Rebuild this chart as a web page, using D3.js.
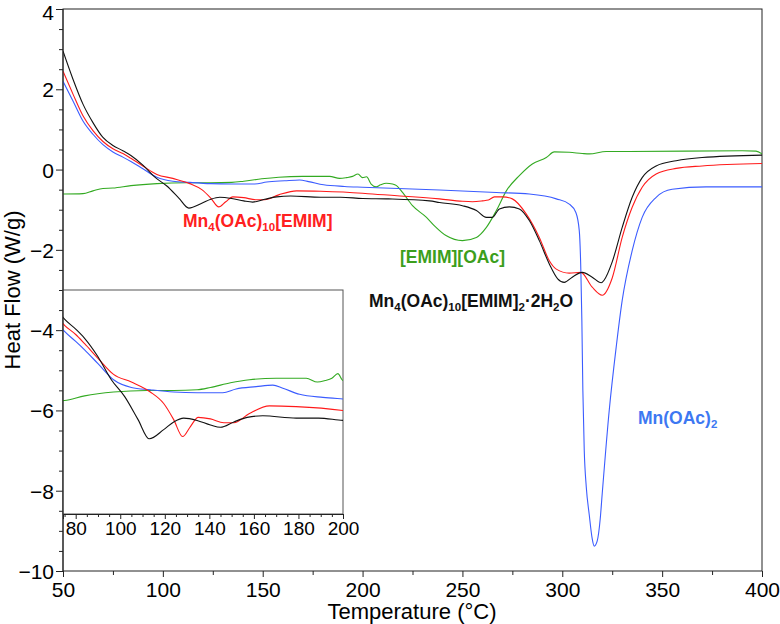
<!DOCTYPE html>
<html>
<head>
<meta charset="utf-8">
<script src="https://cdn.jsdelivr.net/npm/d3@7"></script>
<style>
    body { margin: 0; background: #fff; }
    svg text { font-family: "Liberation Sans", Arial, sans-serif; }
    .axis path, .axis line { stroke: #222; }
    .curve { fill: none; stroke-width: 1.1; }
</style>
</head>
<body>
<div id="chart"></div>
<script>
    // DSC traces, [temperature °C, heat flow W/g]
    const mnCluster2H2O = [[50,2.95],[55,2.25],[60,1.63],[65,1.17],[70,0.80],[75,0.60],[80,0.47],[84,0.35],[90,0.11],
        [96,-0.19],[102,-0.41],[108,-0.71],[113,-0.96],[119.5,-0.84],[124,-0.74],[128.5,-0.69],[134.5,-0.72],
        [140.5,-0.78],[145,-0.81],[151,-0.74],[157,-0.68],[164,-0.66],[179,-0.69],[189,-0.69],[200,-0.72],
        [213,-0.73],[233.5,-0.78],[238.5,-0.82],[250,-0.90],[257,-1.02],[262,-1.19],[265,-1.19],[268.5,-0.98],
        [273.5,-0.93],[278.5,-0.98],[283.5,-1.27],[288.5,-1.77],[293.5,-2.35],[297.7,-2.72],[301,-2.81],
        [305,-2.68],[310,-2.56],[315,-2.68],[319.5,-2.82],[321,-2.75],[325,-2.3],[330,-1.44],[335,-0.69],
        [340,-0.20],[347,0.09],[357,0.22],[370,0.30],[400,0.36]];
    const mnCluster = [[50,2.45],[55,1.88],[60,1.34],[65,0.97],[70,0.70],[75,0.52],[80,0.40],[84,0.28],[90,0.09],
        [97,-0.12],[105,-0.22],[113.5,-0.35],[119.5,-0.50],[124,-0.71],[128,-0.93],[131.5,-0.80],[135,-0.68],
        [140.5,-0.70],[146.5,-0.75],[151,-0.75],[158,-0.63],[167,-0.53],[179,-0.54],[200,-0.59],[205,-0.61],
        [238.5,-0.73],[250,-0.79],[255,-0.80],[260,-0.78],[263,-0.76],[266,-0.68],[270,-0.68],[275,-0.73],
        [282,-1.11],[288.5,-1.69],[293.5,-2.27],[297,-2.48],[303.5,-2.58],[309.3,-2.56],[315,-2.93],[320,-3.13],
        [325,-2.7],[330,-1.69],[335,-0.94],[340,-0.44],[347,-0.11],[357,0.03],[370,0.09],[400,0.15]];
    const mnAcetate = [[50,2.2],[55,1.71],[60,1.21],[65,0.88],[70,0.62],[75,0.44],[80,0.31],[84,0.20],[90,0.02],
        [97,-0.19],[105,-0.29],[113.5,-0.32],[124,-0.35],[134.5,-0.36],[146,-0.36],[152,-0.31],[161,-0.28],
        [168.5,-0.26],[173,-0.30],[180.5,-0.38],[191,-0.42],[200,-0.44],[238.5,-0.51],[267,-0.57],[283.5,-0.61],
        [297,-0.73],[303.5,-0.86],[306.8,-1.07],[308.5,-1.52],[309.3,-2.52],[309.8,-3.76],[310.3,-5.5],
        [311,-7.0],[312,-7.9],[313.5,-8.6],[315,-9.2],[316,-9.38],[317.5,-9.25],[319,-8.7],[320,-8.07],
        [323.5,-6.0],[327,-4.42],[330,-3.26],[335,-2.02],[340,-1.19],[347,-0.69],[355,-0.49],[372,-0.43],[400,-0.43]];
    const emimOAc = [[50,-0.61],[60,-0.60],[65,-0.53],[70,-0.47],[75,-0.46],[84,-0.40],[97,-0.35],[112,-0.33],
        [124,-0.33],[134.5,-0.32],[140.5,-0.29],[149.5,-0.23],[158,-0.19],[170,-0.17],[183.5,-0.17],[188.5,-0.22],
        [192,-0.20],[195,-0.17],[197.7,-0.11],[200,-0.20],[202,-0.18],[204.3,-0.36],[206.8,-0.43],[209,-0.38],
        [211.8,-0.34],[215,-0.36],[217,-0.40],[220,-0.57],[225,-0.90],[232,-1.19],[236,-1.40],[242,-1.65],
        [250,-1.77],[257,-1.69],[262,-1.44],[267,-1.02],[272,-0.53],[278.5,-0.15],[285,0.14],[292,0.30],
        [296,0.44],[303.5,0.43],[310,0.40],[313.5,0.39],[322,0.45],[333.5,0.45],[390,0.47],[397,0.46],[400,0.39]];

    const series = [
        {name: "emim", data: emimOAc, color: "#33aa22"},
        {name: "acetate", data: mnAcetate, color: "#3b5cff"},
        {name: "cluster", data: mnCluster, color: "#ff1a1a"},
        {name: "hydrate", data: mnCluster2H2O, color: "#111111"}
    ];

    const xTicks = [50, 100, 150, 200, 250, 300, 350, 400];
    const yTicks = [4, 2, 0, -2, -4, -6, -8, -10];
    const insetTicks = [80, 100, 120, 140, 160, 180, 200];

    // label text pieces: [text, isSubscript]
    const labels = [
        {parts: [["Mn",0],["4",1],["(OAc)",0],["10",1],["[EMIM]",0]], color: "#ff2020", x: 183, y: 227},
        {parts: [["[EMIM][OAc]",0]], color: "#3c9e1c", x: 400, y: 263},
        {parts: [["Mn",0],["4",1],["(OAc)",0],["10",1],["[EMIM]",0],["2",1],["·2H",0],["2",1],["O",0]], color: "#111", x: 369, y: 306.5},
        {parts: [["Mn(OAc)",0],["2",1]], color: "#3d78f2", x: 638, y: 424}
    ];

    const W = 780, H = 624;
    const svg = d3.select("#chart").append("svg").attr("width", W).attr("height", H);

    const x = d3.scaleLinear().domain([50, 400]).range([63, 762]);
    const y = d3.scaleLinear().domain([-10, 4]).range([571, 9]);

    const line = d3.line().curve(d3.curveMonotoneX)
        .x(function (d) { return x(d[0]); })
        .y(function (d) { return y(d[1]); });

    // frame
    svg.append("rect").attr("x", 63).attr("y", 9).attr("width", 699).attr("height", 562)
        .attr("fill", "none").attr("stroke", "#222");

    // minor ticks
    svg.append("g").attr("class", "axis").attr("transform", "translate(0,571)")
        .call(d3.axisBottom(x).tickValues(d3.range(75, 400, 50)).tickSize(4).tickFormat(""))
        .select(".domain").remove();
    svg.append("g").attr("class", "axis").attr("transform", "translate(63,0)")
        .call(d3.axisLeft(y).tickValues(d3.range(-9.5, 4, 0.5).filter(function (v) { return v % 2 !== 0; })).tickSize(4).tickFormat(""))
        .select(".domain").remove();

    const xAxis = svg.append("g").attr("class", "axis").attr("transform", "translate(0,571)")
        .call(d3.axisBottom(x).tickValues(xTicks).tickSize(6).tickPadding(5));
    xAxis.selectAll("text").attr("font-size", 21).attr("fill", "#000").attr("dy", "0.71em");
    xAxis.select(".domain").remove();

    const yAxis = svg.append("g").attr("class", "axis").attr("transform", "translate(63,0)")
        .call(d3.axisLeft(y).tickValues(yTicks).tickSize(7).tickPadding(2));
    yAxis.selectAll("text").attr("font-size", 21).attr("fill", "#000")
        .attr("dy", function (d) { return d === 4 ? "0.5em" : "0.36em"; });
    yAxis.select(".domain").remove();

    svg.append("text").attr("x", 412).attr("y", 619).attr("text-anchor", "middle")
        .attr("font-size", 22).text("Temperature (°C)");
    svg.append("text").attr("transform", "translate(20,290) rotate(-90)").attr("text-anchor", "middle")
        .attr("font-size", 22).text("Heat Flow (W/g)");

    svg.append("defs").append("clipPath").attr("id", "mainClip")
        .append("rect").attr("x", 63).attr("y", 9).attr("width", 699).attr("height", 562);

    const gMain = svg.append("g").attr("clip-path", "url(#mainClip)");
    gMain.selectAll("path.curve").data(series).enter().append("path")
        .attr("class", "curve")
        .attr("stroke", function (d) { return d.color; })
        .attr("d", function (d) { return line(d.data); });

    // labels with subscripts
    labels.forEach(function (lab) {
        const t = svg.append("text").attr("x", lab.x).attr("y", lab.y)
            .attr("font-size", 17.5).attr("font-weight", "bold").attr("fill", lab.color);
        let down = false;
        lab.parts.forEach(function (p) {
            const ts = t.append("tspan").text(p[0]);
            if (p[1]) {
                ts.attr("font-size", 11.5).attr("dy", down ? 0 : 4);
                down = true;
            } else {
                if (down) ts.attr("dy", -4);
                down = false;
            }
        });
    });

    // inset
    const ix = d3.scaleLinear().domain([74.3, 200]).range([63, 343]);
    const iy = d3.scaleLinear().domain([-1.94, 0.98]).range([514, 290]);
    const iline = d3.line().curve(d3.curveMonotoneX)
        .x(function (d) { return ix(d[0]); })
        .y(function (d) { return iy(d[1]); });

    svg.append("rect").attr("x", 63).attr("y", 290).attr("width", 280).attr("height", 224)
        .attr("fill", "#fff").attr("stroke", "#555");

    svg.select("defs").append("clipPath").attr("id", "insetClip")
        .append("rect").attr("x", 63).attr("y", 290).attr("width", 280).attr("height", 224);

    const gInset = svg.append("g").attr("clip-path", "url(#insetClip)");
    gInset.selectAll("path.curve").data(series).enter().append("path")
        .attr("class", "curve")
        .attr("stroke", function (d) { return d.color; })
        .attr("d", function (d) { return iline(d.data); });

    svg.append("g").attr("class", "axis").attr("transform", "translate(0,514)")
        .call(d3.axisBottom(ix).tickValues(d3.range(75, 200, 5).filter(function (v) { return v % 20 !== 0; })).tickSize(3).tickFormat(""))
        .select(".domain").remove();
    const insetAxis = svg.append("g").attr("class", "axis").attr("transform", "translate(0,514)")
        .call(d3.axisBottom(ix).tickValues(insetTicks).tickSize(5).tickPadding(3));
    insetAxis.selectAll("text").attr("font-size", 19).attr("fill", "#000").attr("dy", "0.71em");
    insetAxis.select(".domain").attr("stroke", "#555");

    // re-draw left main axis line over the inset box
    svg.append("line").attr("x1", 63).attr("x2", 63).attr("y1", 9).attr("y2", 571).attr("stroke", "#222");
</script>
</body>
</html>
